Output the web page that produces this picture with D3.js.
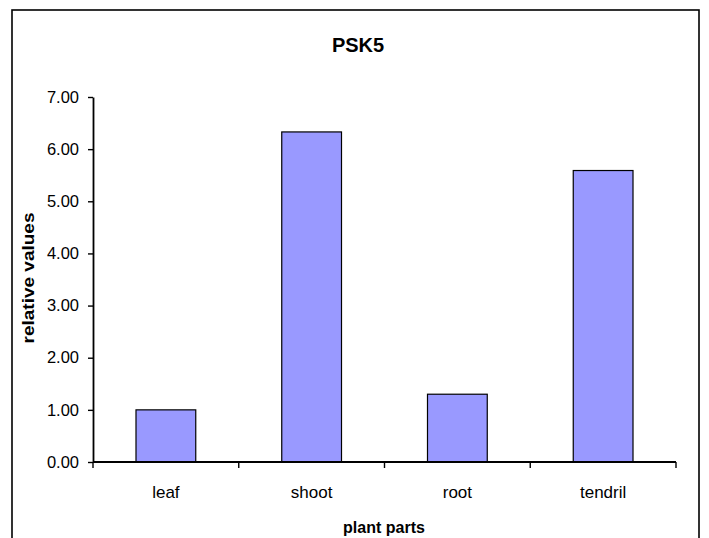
<!DOCTYPE html>
<html>
<head>
<meta charset="utf-8">
<script src="https://cdn.jsdelivr.net/npm/d3@7"></script>
<style>
  html, body { margin: 0; padding: 0; background: #fff; }
  svg { display: block; font-family: Arial, "Liberation Sans", Helvetica, sans-serif; }
</style>
</head>
<body>
<svg id="chart" width="709" height="538"></svg>
<script>
// Expression of PSK5 across plant parts
const categories = ["leaf", "shoot", "root", "tendril"];
const values = [1.00, 6.33, 1.30, 5.59];
const yTicks = [0, 1, 2, 3, 4, 5, 6, 7];
const title = "PSK5";
const xTitle = "plant parts";
const yTitle = "relative values";

const svg = d3.select("#chart");
const W = 709, H = 538;
const plot = { left: 93, right: 676, top: 97, bottom: 462 };

// outer chart frame (bottom edge falls outside the view)
svg.append("rect")
  .attr("x", 12).attr("y", 10)
  .attr("width", 687).attr("height", 560)
  .attr("fill", "#fff")
  .attr("stroke", "#000")
  .attr("stroke-width", 1.6);

const x = d3.scaleBand()
  .domain(categories)
  .range([plot.left, plot.right])
  .paddingInner(0.59)
  .paddingOuter(0.295);

const y = d3.scaleLinear()
  .domain([0, 7])
  .range([plot.bottom, plot.top]);

// bars
svg.append("g")
  .selectAll("rect")
  .data(values)
  .join("rect")
  .attr("x", (d, i) => x(categories[i]))
  .attr("y", d => y(d))
  .attr("width", x.bandwidth())
  .attr("height", d => y(0) - y(d))
  .attr("fill", "#9999ff")
  .attr("stroke", "#000")
  .attr("stroke-width", 1.2);

// y axis
const yAxis = svg.append("g")
  .attr("transform", `translate(${plot.left},0)`)
  .call(d3.axisLeft(y).tickValues(yTicks).tickFormat(d3.format(".2f"))
    .tickSize(5).tickSizeOuter(0).tickPadding(9));
yAxis.select(".domain").attr("stroke", "#000").attr("stroke-width", 1.8);
yAxis.selectAll(".tick line").attr("stroke", "#000").attr("stroke-width", 1.4);
yAxis.selectAll(".tick text")
  .attr("fill", "#000")
  .style("font-size", "16.5px");

// x axis: ticks sit on band boundaries
const bounds = categories.map(c => x(c) - x.step() * x.paddingInner() / 2)
  .concat([plot.right]);
const xAxis = svg.append("g");
xAxis.append("line")
  .attr("x1", plot.left).attr("x2", plot.right)
  .attr("y1", plot.bottom).attr("y2", plot.bottom)
  .attr("stroke", "#000").attr("stroke-width", 1.8);
xAxis.selectAll("line.tk")
  .data(bounds)
  .join("line")
  .attr("class", "tk")
  .attr("x1", d => d).attr("x2", d => d)
  .attr("y1", plot.bottom).attr("y2", plot.bottom + 6)
  .attr("stroke", "#000").attr("stroke-width", 1.4);
xAxis.selectAll("text")
  .data(categories)
  .join("text")
  .attr("x", d => x(d) + x.bandwidth() / 2)
  .attr("y", 498)
  .attr("text-anchor", "middle")
  .style("font-size", "17px")
  .text(d => d);

// titles
svg.append("text")
  .attr("x", 358).attr("y", 52)
  .attr("text-anchor", "middle")
  .style("font-size", "20px").style("font-weight", "bold")
  .text(title);

svg.append("text")
  .attr("x", 384).attr("y", 533)
  .attr("text-anchor", "middle")
  .style("font-size", "16px").style("font-weight", "bold")
  .text(xTitle);

svg.append("text")
  .attr("transform", "translate(34,278) rotate(-90)")
  .attr("text-anchor", "middle")
  .attr("textLength", 131)
  .attr("lengthAdjust", "spacingAndGlyphs")
  .style("font-size", "16px").style("font-weight", "bold")
  .text(yTitle);
</script>
</body>
</html>
